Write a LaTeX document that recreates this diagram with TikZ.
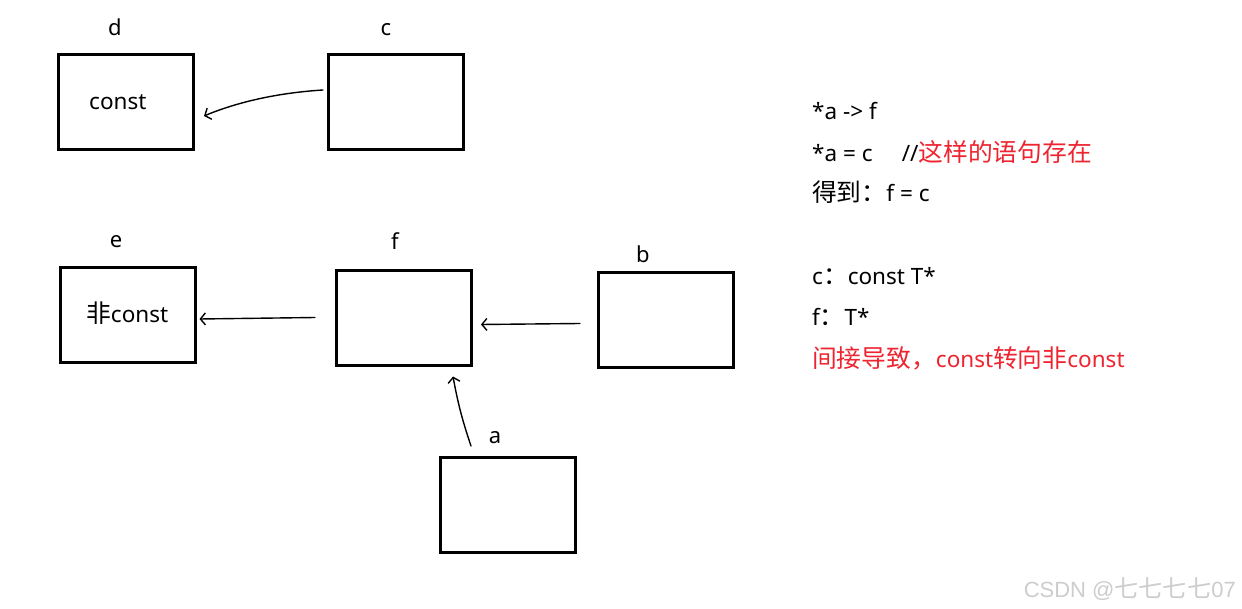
\documentclass[tikz,border=0pt]{standalone}
\usepackage{fontspec}
\setmainfont{Noto Sans}
\newfontfamily\cjk[Scale=1.1]{Noto Sans CJK SC}
\newfontfamily\wmfont{Liberation Sans}
\usetikzlibrary{arrows.meta,calc}
\definecolor{txtred}{RGB}{238,36,48}
\definecolor{wm}{RGB}{205,205,205}
\begin{document}
\begin{tikzpicture}[x=1pt,y=-1pt,
  box/.style={draw, line width=3pt, minimum width=135pt, minimum height=95pt, inner sep=0pt},
  lbl/.style={font=\fontsize{22}{26}\selectfont, inner sep=0pt, anchor=base},
  txt/.style={font=\fontsize{22.5}{26}\selectfont, inner sep=0pt, anchor=base west},
  hand/.style={line width=1.4pt, line cap=round, -{Straight Barb[length=5pt,width=12pt]}}]
\useasboundingbox[fill=white] (0,0) rectangle (1242,609);
% boxes
\node[box] (d) at (126,102) {};
\node[box] (c) at (396,102) {};
\node[box] (e) at (127.5,315) {};
\node[box] (f) at (404,318.5) {};
\node[box] (b) at (666,320.5) {};
\node[box] (a) at (508,505) {};
% labels
\node[lbl] (dl) at (115,36) {d};
\node[lbl] (cl) at (386,36) {c};
\node[lbl] (el) at (116,248) {e};
\node[lbl] (fl) at (395,250) {f};
\node[lbl] (bl) at (643,263) {b};
\node[lbl] (al) at (495,443) {a};
% box texts
\node[txt] (dt) at (89,110) {const};
\node[txt] (et) at (86,323) {{\cjk 非}const};
% connectors
\draw[hand] ([xshift=-4pt,yshift=12pt]c.west) .. controls (275,93) and (235,103) .. ([xshift=9pt,yshift=-14pt]d.east);
\draw[hand] ([xshift=-20pt,yshift=1pt]f.west) -- ([xshift=3pt,yshift=-4pt]e.east);
\draw[hand] ([xshift=-17pt,yshift=-3pt]b.west) -- ([xshift=8pt,yshift=-6pt]f.east);
\draw[hand] ([xshift=-37pt,yshift=10pt]a.north) to[bend left=4] ([xshift=49pt,yshift=-9pt]f.south);
% right notes
\node[txt] (n1) at (812,120) {*a -> f};
\node[txt] (n2) at (812,162) {*a = c\hspace{1.3em}//\textcolor{txtred}{\cjk 这样的语句存在}};
\node[txt] (n3) at (812,202) {{\cjk 得到：}f = c};
\node[txt] (n4) at (812,285) {c{\cjk ：}const T*};
\node[txt] (n5) at (812,326) {f{\cjk ：}T*};
\node[txt, text=txtred] (n6) at (812,368) {{\cjk 间接导致，}const{\cjk 转向非}const};
% watermark
\node[txt, anchor=base east, text=wm, font=\fontsize{22}{24}\selectfont] (wm) at (1236,597) {\wmfont CSDN @{\cjk 七七七七}07};
\end{tikzpicture}
\end{document}
